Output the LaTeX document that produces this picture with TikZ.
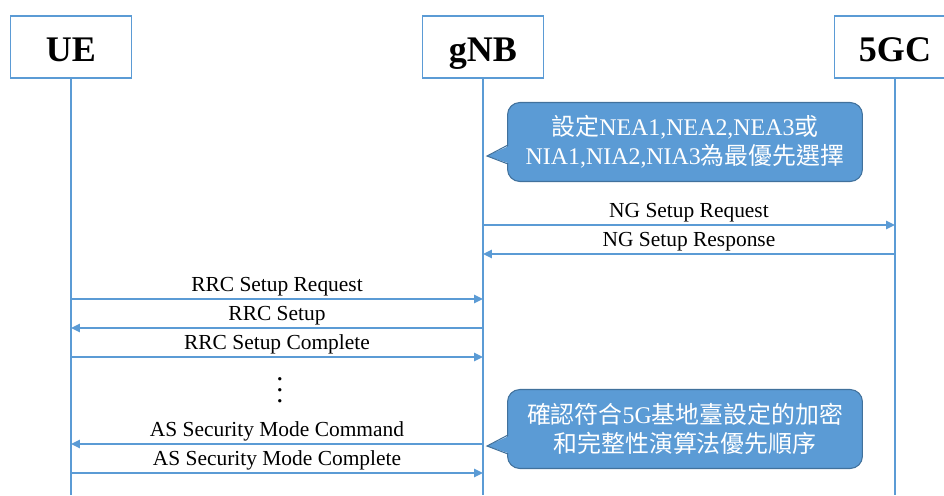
\documentclass[tikz,border=0pt]{standalone}
\usepackage{fontspec}
\setmainfont{Liberation Serif}
\newfontfamily\cjk{Noto Sans CJK TC}
\usetikzlibrary{arrows.meta}
\usetikzlibrary{positioning}
\definecolor{lineblue}{RGB}{91,155,213}
\definecolor{edgeblue}{RGB}{65,113,156}

\begin{document}
\begin{tikzpicture}[x=0.02cm,y=-0.02cm,>={Triangle[length=5pt,width=4.5pt]},
                    entity/.style={draw=lineblue,line width=0.6pt,fill=white,minimum width=2.42cm,
                                   minimum height=1.24cm,text height=16pt,text depth=0pt,
                                   font=\bfseries\fontsize{20.5}{24}\selectfont},
                    life/.style={lineblue,line width=1.2pt},
                    msg/.style={->,lineblue,line width=1.2pt},
                    lbl/.style={anchor=base,yshift=4pt,inner sep=0pt,text=black,
                                font=\fontsize{12.2}{14}\selectfont},
                    note/.style={fill=lineblue,draw=edgeblue,line width=0.6pt,rounded corners=7pt,
                                 minimum width=7.1cm,minimum height=1.58cm,align=center,text=white,
                                 font=\fontsize{13.6}{16.5}\selectfont}]
                \clip (0,0) rectangle (944,495);
                % entities and lifelines
                \node[entity] (UE) at (71,47) {UE};
                \node[entity] (gNB) at (483,47) {gNB};
                \node[entity] (CN) at (895,47) {5GC};
                \coordinate (UE-end) at (71,495);
                \coordinate (gNB-end) at (483,495);
                \coordinate (CN-end) at (895,495);
                \draw[life] (UE) -- (UE-end);
                \draw[life] (gNB) -- (gNB-end);
                \draw[life] (CN) -- (CN-end);

                % first note
                \node[note] (N1) at (685,142) {{\cjk 設定}NEA1,NEA2,NEA3{\cjk 或}\\NIA1,NIA2,NIA3{\cjk 為最優先選擇}};
                \coordinate (N1-tip) at (487,156);
                \fill[lineblue] (511,145) -- (N1-tip) -- (511,164) -- cycle;
                \draw[edgeblue,line width=0.6pt] (508,145) -- (N1-tip) -- (508,164);

                % messages
                \draw[msg] (gNB |- 0,225) -- (CN |- 0,225) node[lbl,midway] {NG Setup Request};
                \draw[msg] (CN |- 0,254) -- (gNB |- 0,254) node[lbl,midway] {NG Setup Response};
                \draw[msg] (UE |- 0,299) -- (gNB |- 0,299) node[lbl,midway] {RRC Setup Request};
                \draw[msg] (gNB |- 0,328) -- (UE |- 0,328) node[lbl,midway] {RRC Setup};
                \draw[msg] (UE |- 0,357) -- (gNB |- 0,357) node[lbl,midway] {RRC Setup Complete};

                \node (dots) at (280,382) {\scalebox{1.6}{\boldmath$\vdots$}};

                \draw[msg] (gNB |- 0,444) -- (UE |- 0,444) node[lbl,midway] {AS Security Mode Command};
                \draw[msg] (UE |- 0,473) -- (gNB |- 0,473) node[lbl,midway] {AS Security Mode Complete};

                % second note
                \node[note] (N2) at (685,429) {{\cjk 確認符合}5G{\cjk 基地臺設定的加密}\\{\cjk 和完整性演算法優先順序}};
                \coordinate (N2-tip) at (487,446);
                \fill[lineblue] (511,435) -- (N2-tip) -- (511,454) -- cycle;
                \draw[edgeblue,line width=0.6pt] (508,435) -- (N2-tip) -- (508,454);
\end{tikzpicture}
\end{document}
